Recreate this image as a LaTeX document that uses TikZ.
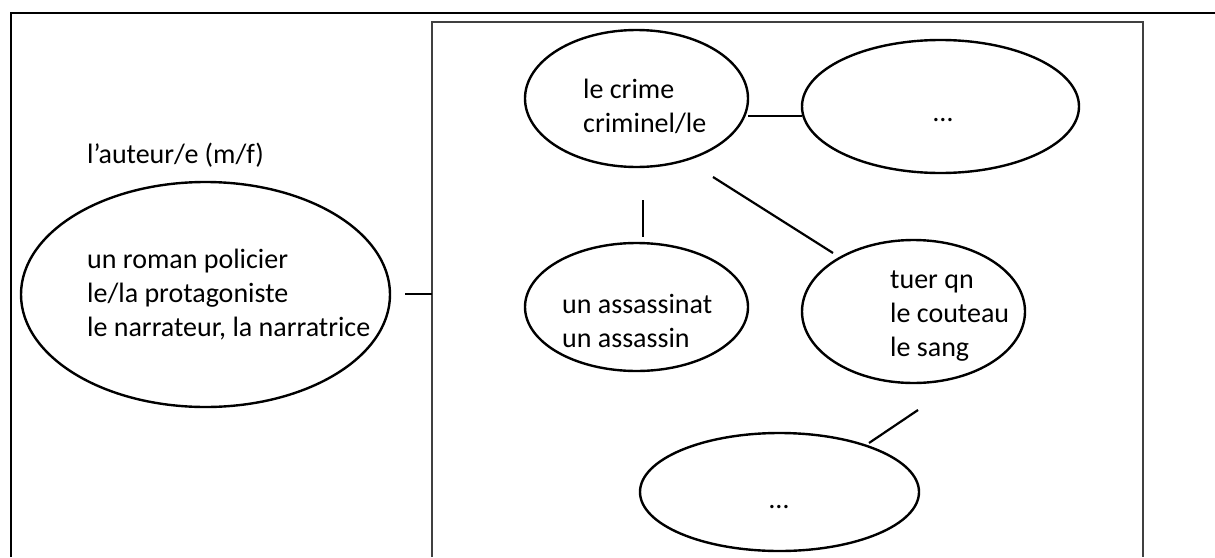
\documentclass[tikz,border=0pt]{standalone}
\usepackage{fontspec}
\setmainfont{Carlito}
\usetikzlibrary{shapes.geometric}
\begin{document}
\begin{tikzpicture}[x=1pt,y=-1pt,
  bub/.style={draw, line width=2.4pt, ellipse, inner sep=0pt},
  lbl/.style={anchor=base west, inner sep=0pt, font=\fontsize{28}{33.9}\selectfont, align=left},
  con/.style={line width=2.2pt},
  frameline/.style={line width=2.5pt},
  boxline/.style={line width=1.5pt, draw=black!75}]
\useasboundingbox (0,0) rectangle (1215,557);
% frames
\draw[frameline] (11,557) -- (11,13) -- (1215,13);
\draw[boxline] (432,557) -- (432,22) -- (1143,22) -- (1143,557);
% bubbles
\node[bub, minimum width=369pt, minimum height=225pt] (main) at (205.5,294.5) {};
\node[bub, minimum width=223pt, minimum height=137pt] (crime) at (636.5,98.5) {};
\node[bub, minimum width=277pt, minimum height=133pt] (dots1) at (940.5,106.5) {};
\node[bub, minimum width=223pt, minimum height=128pt] (assas) at (636.5,307) {};
\node[bub, minimum width=223pt, minimum height=143pt] (tuer) at (913.5,311.5) {};
\node[bub, minimum width=279pt, minimum height=118pt] (dots2) at (779.5,492) {};
% texts (base = baseline of the last line)
\node[lbl] (taut) at (87,163) {l’auteur/e (m/f)};
\node[lbl] (tmain) at (87,336) {un roman policier\\le/la protagoniste\\le narrateur, la narratrice};
\node[lbl] (tcrime) at (583,132) {le crime\\criminel/le};
\node[lbl] (tass) at (562,347) {un assassinat\\un assassin};
\node[lbl] (ttuer) at (890,356) {tuer qn\\le couteau\\le sang};
\node[lbl, anchor=base] (td1) at (943,121) {…};
\node[lbl, anchor=base] (td2) at (779,508) {…};
% connector ends
\coordinate (m1) at (405,294);
\coordinate (m2) at (432,294);
\coordinate (c1) at (748,116);
\coordinate (c2) at (802,116);
\coordinate (v1) at (643,200);
\coordinate (v2) at (643,237);
\coordinate (d1) at (713,177);
\coordinate (d2) at (833,253);
\coordinate (b1) at (918,410);
\coordinate (b2) at (869,443);
% connectors
\draw[con] (m1) -- (m2);
\draw[con] (c1) -- (c2);
\draw[con] (v1) -- (v2);
\draw[con] (d1) -- (d2);
\draw[con] (b1) -- (b2);
\end{tikzpicture}
\end{document}
